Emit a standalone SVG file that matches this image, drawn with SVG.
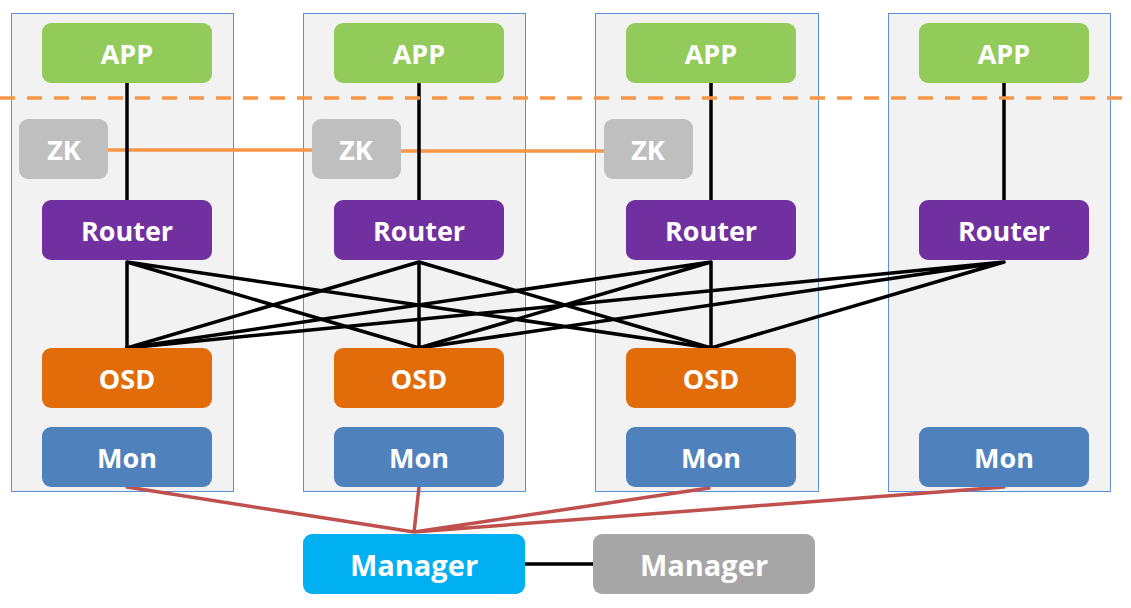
<svg xmlns="http://www.w3.org/2000/svg" width="1131" height="608" viewBox="0 0 1131 608">
<style>
.col{fill:#F2F2F2;stroke:#5B8FD6;stroke-width:1}
.app{fill:#92CB5A}
.zk{fill:#BFBFBF}
.rt{fill:#7030A0}
.osd{fill:#E36C0A}
.mon{fill:#4F81BD}
.mgr{fill:#00B0F0}
.mgr2{fill:#A6A6A6}
.t{fill:#FFFFFF;font-family:"Open Sans","Noto Sans","DejaVu Sans",sans-serif;font-weight:bold;font-size:27px;text-anchor:middle;dominant-baseline:central}
.blk{stroke:#000000;stroke-width:3.5;fill:none;stroke-linecap:round}
.red{stroke:#C0504D;stroke-width:3.5;fill:none;stroke-linecap:round}
.org{stroke:#F79646;stroke-width:3.5;fill:none}
</style>
<rect width="1131" height="608" fill="#FFFFFF"/>
<g id="columns">
<rect class="col" x="11.5" y="13.5" width="222" height="478"/>
<rect class="col" x="303.5" y="13.5" width="222" height="478"/>
<rect class="col" x="595.5" y="13.5" width="223" height="478"/>
<rect class="col" x="888.5" y="13.5" width="222" height="478"/>
</g>
<g id="connectors">
<line class="org" x1="108" y1="150" x2="312" y2="150"/>
<line class="org" x1="401" y1="151" x2="604" y2="151"/>
<line class="blk" x1="127" y1="83" x2="127" y2="200"/>
<line class="blk" x1="419" y1="83" x2="419" y2="200"/>
<line class="blk" x1="711" y1="83" x2="711" y2="200"/>
<line class="blk" x1="1004" y1="83" x2="1004" y2="200"/>
<path class="blk" d="M127 262 L127 348 M127 262 L419 348 M127 262 L711 348"/>
<path class="blk" d="M419 262 L127 348 M419 262 L419 348 M419 262 L711 348"/>
<path class="blk" d="M711 262 L127 348 M711 262 L419 348 M711 262 L711 348"/>
<path class="blk" d="M1004 262 L127 348 M1004 262 L419 348 M1004 262 L711 348"/>
<path class="red" d="M127 487 L414 532 M419 487 L414 532 M709 488 L414 532 M1004 487 L414 532"/>
<line class="blk" x1="525" y1="564" x2="593" y2="564"/>
<line x1="0" y1="98" x2="1131" y2="98" stroke="#F79646" stroke-width="3.5" stroke-dasharray="15,12"/>
</g>
<g id="app1"><rect class="app" x="42" y="23" width="170" height="60" rx="9"/><text class="t" x="127" y="53">APP</text></g>
<g id="app2"><rect class="app" x="334" y="23" width="170" height="60" rx="9"/><text class="t" x="419" y="53">APP</text></g>
<g id="app3"><rect class="app" x="626" y="23" width="170" height="60" rx="9"/><text class="t" x="711" y="53">APP</text></g>
<g id="app4"><rect class="app" x="919" y="23" width="170" height="60" rx="9"/><text class="t" x="1004" y="53">APP</text></g>
<g id="zk1"><rect class="zk" x="19" y="119" width="89" height="60" rx="9"/><text class="t" x="64" y="149">ZK</text></g>
<g id="zk2"><rect class="zk" x="312" y="119" width="89" height="60" rx="9"/><text class="t" x="356" y="149">ZK</text></g>
<g id="zk3"><rect class="zk" x="604" y="119" width="89" height="60" rx="9"/><text class="t" x="648" y="149">ZK</text></g>
<g id="router1"><rect class="rt" x="42" y="200" width="170" height="60" rx="9"/><text class="t" x="127" y="230">Router</text></g>
<g id="router2"><rect class="rt" x="334" y="200" width="170" height="60" rx="9"/><text class="t" x="419" y="230">Router</text></g>
<g id="router3"><rect class="rt" x="626" y="200" width="170" height="60" rx="9"/><text class="t" x="711" y="230">Router</text></g>
<g id="router4"><rect class="rt" x="919" y="200" width="170" height="60" rx="9"/><text class="t" x="1004" y="230">Router</text></g>
<g id="osd1"><rect class="osd" x="42" y="348" width="170" height="60" rx="9"/><text class="t" x="127" y="378">OSD</text></g>
<g id="osd2"><rect class="osd" x="334" y="348" width="170" height="60" rx="9"/><text class="t" x="419" y="378">OSD</text></g>
<g id="osd3"><rect class="osd" x="626" y="348" width="170" height="60" rx="9"/><text class="t" x="711" y="378">OSD</text></g>
<g id="mon1"><rect class="mon" x="42" y="427" width="170" height="60" rx="9"/><text class="t" x="127" y="457">Mon</text></g>
<g id="mon2"><rect class="mon" x="334" y="427" width="170" height="60" rx="9"/><text class="t" x="419" y="457">Mon</text></g>
<g id="mon3"><rect class="mon" x="626" y="427" width="170" height="60" rx="9"/><text class="t" x="711" y="457">Mon</text></g>
<g id="mon4"><rect class="mon" x="919" y="427" width="170" height="60" rx="9"/><text class="t" x="1004" y="457">Mon</text></g>
<g id="manager1"><rect class="mgr" x="303" y="534" width="222" height="60" rx="9"/><text class="t" x="414" y="564" style="font-size:29px">Manager</text></g>
<g id="manager2"><rect class="mgr2" x="593" y="534" width="222" height="60" rx="9"/><text class="t" x="704" y="564" style="font-size:29px">Manager</text></g>
</svg>
